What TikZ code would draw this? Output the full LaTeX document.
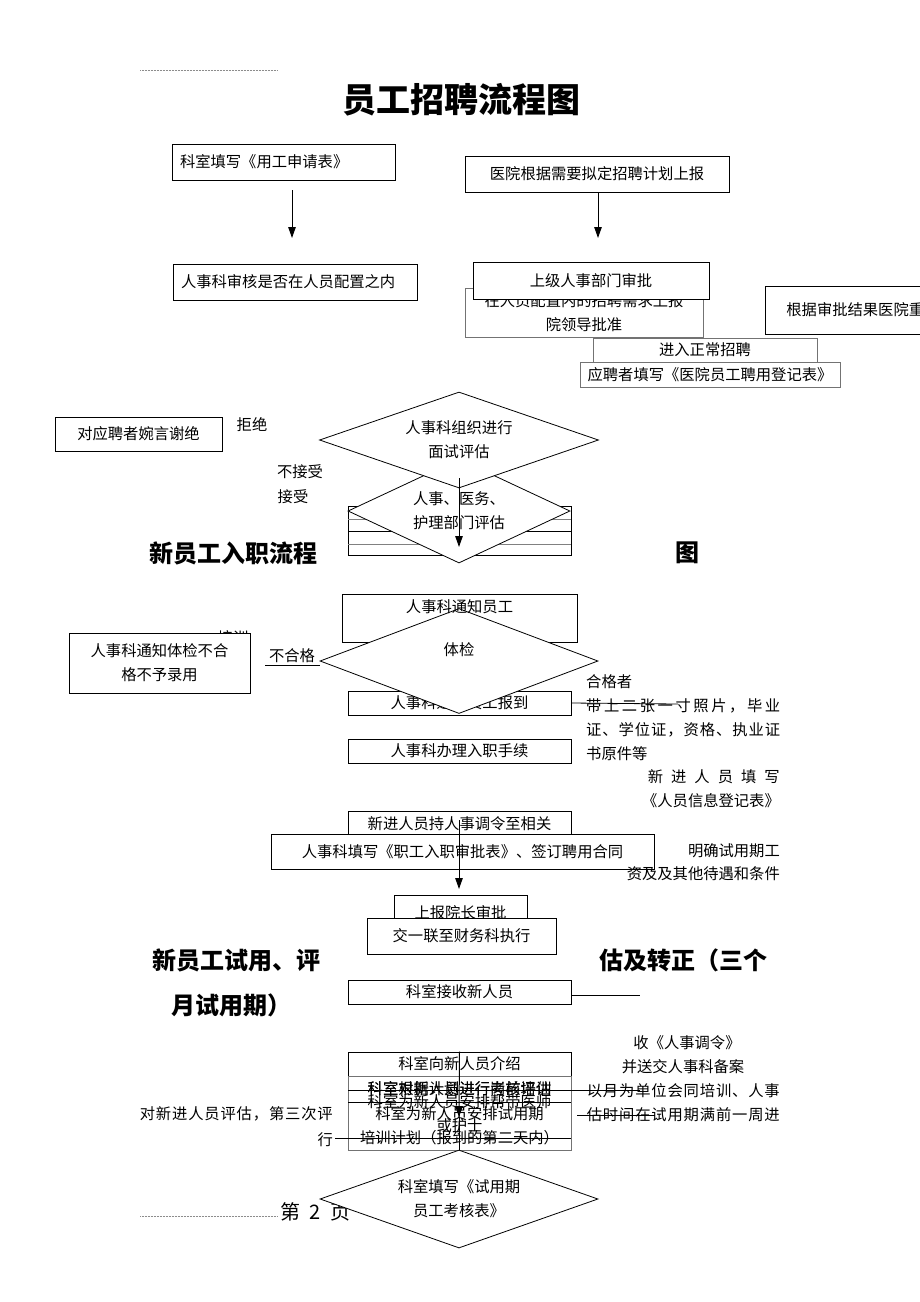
\documentclass[tikz,border=0pt]{standalone}
\usepackage{fontspec}
\setmainfont{Noto Sans CJK SC}
\usetikzlibrary{shapes.geometric,arrows.meta}
\newcommand{\fsn}{\fontsize{15.3}{24}\selectfont}
\newcommand{\fst}{\fontsize{34}{40}\selectfont\bfseries}
\newcommand{\fsh}{\fontsize{24}{28}\selectfont\bfseries}
\newcommand{\fsp}{\fontsize{20}{24}\selectfont}
\tikzset{
  bx/.style={draw, line width=0.8pt, fill=white, inner sep=0pt, font=\fsn, align=center},
  gbx/.style={bx, draw=black!55},
  sz/.style 2 args={minimum width=#1pt, minimum height=#2pt},
  dm/.style={draw, line width=0.8pt, fill=white, diamond, inner sep=0pt, font=\fsn, align=center},
  tx/.style={inner sep=0pt, font=\fsn, align=center},
  hd/.style={inner sep=0pt, font=\fsh},
  ln/.style={line width=0.8pt},
  gln/.style={line width=0.8pt, black!50},
  arr/.style={line width=1pt, -{Triangle[length=11pt,width=7.5pt]}},
  dotl/.style={line width=0.5pt, black!45, densely dotted}
}
\begin{document}
\begin{tikzpicture}[x=1pt,y=-1pt]
\useasboundingbox (0,0) rectangle (920,1302);
\fill[white] (0,0) rectangle (920,1302);
\clip (0,0) rectangle (920,1302);

% header rule and title
\coordinate (hl1) at (140,70); \coordinate (hl2) at (277,70);
\draw[dotl] (hl1) -- (hl2);
\node[inner sep=0pt, font=\fst] (title) at (461,100) {员工招聘流程图};

% ---------- recruitment ----------
\node[bx, sz={223}{36}, text width=207pt, align=left] (b1) at (283.5,162) {科室填写《用工申请表》};
\node[bx, sz={264}{36}] (b2) at (597,174) {医院根据需要拟定招聘计划上报};
\node[bx, sz={244}{36}, text width=228pt, align=left] (b3) at (295,282) {人事科审核是否在人员配置之内};
\draw[arr] (292,190) -- (292,238);
\draw[arr] (598,192) -- (598,238);
\node[gbx, sz={238}{49}] (b4) at (584,313) {在人员配置内的招聘需求上报\\院领导批准};
\node[bx, sz={236}{37}] (b5) at (591,280.5) {上级人事部门审批};
\node[bx, sz={186}{48}, text width=144pt, align=left, inner xsep=21pt, anchor=west] (b6) at (765,310) {根据审批结果医院重};
\node[gbx, sz={224}{28}, text depth=6pt] (b7) at (705,352) {进入正常招聘};
\node[gbx, sz={260}{25}] (b8) at (710,374.5) {应聘者填写《医院员工聘用登记表》};

\node[bx, sz={167}{34}] (b9) at (138.5,434) {对应聘者婉言谢绝};
\node[tx] (l1) at (252,425) {拒绝};
\node[tx] (l2) at (300,472) {不接受};
\node[tx] (l3) at (293,497) {接受};

% stacked boxes behind second diamond
\draw[ln] (348,506) rectangle (571,555);
\draw[gln] (348,519) -- (571,519);
\draw[ln] (348,531) -- (571,531);
\draw[gln] (348,544) -- (571,544);
\node[dm, sz={222}{104}, shape aspect=2.1] (d2) at (459,511) {人事、医务、\\护理部门评估};
\node[dm, sz={279}{96}, shape aspect=2.9] (d1) at (459,440) {人事科组织进行\\面试评估};
\draw[arr] (459,478) -- (459,547);

% ---------- onboarding ----------
\node[hd] (h1) at (233,553) {新员工入职流程};
\node[hd] (h2) at (687,553) {图};

\node[bx, sz={235}{48}] (b10) at (459.5,618) {};
\node[tx] (px) at (233,638) {培训};
\node[bx, sz={181}{60}] (b11) at (159.5,663) {人事科通知体检不合\\格不予录用};
\node[bx, sz={223}{24}] (b12) at (459.5,703) {人事科通知员工报到};
\node[dm, sz={278}{105}] (d3) at (459,661) {};
\node[tx] (d3t) at (459,650) {体检};
\node[tx] (b10t) at (459.5,607) {人事科通知员工};
\node[tx] (l4) at (292,656) {不合格};
\coordinate (u1) at (265,665);
\draw[ln] (u1) -- (u1 -| d3.west);

\node[tx, anchor=west] (r1) at (586,682) {合格者};
\coordinate (s1) at (678,704);
\draw[ln] (b12.east) -- (s1);
\node[tx, anchor=west] (r2) at (586,706) {\makebox[194pt]{带\hfill 上\hfill 二\hfill 张\hfill 一\hfill 寸\hfill 照\hfill 片\hfill ，\hfill 毕\hfill 业}};
\node[tx, anchor=west] (r3) at (586,730) {\makebox[194pt]{证\hfill 、\hfill 学\hfill 位\hfill 证\hfill ，\hfill 资\hfill 格\hfill 、\hfill 执\hfill 业\hfill 证}};
\node[tx, anchor=west] (r4) at (586,754) {书原件等};

\node[bx, sz={223}{24}] (b13) at (459.5,751) {人事科办理入职手续};
\node[tx, anchor=east] (r5) at (780,777) {\makebox[132pt]{新\hfill 进\hfill 人\hfill 员\hfill 填\hfill 写}};
\node[tx, anchor=east] (r6) at (780,801) {《人员信息登记表》};

\node[bx, sz={223}{26}] (b14) at (459.5,824) {新进人员持人事调令至相关};
\node[bx, sz={383}{35}] (b15) at (462.5,851.5) {人事科填写《职工入职审批表》、签订聘用合同};
\draw[arr] (459,820) -- (459,889);
\node[tx, anchor=east] (r7) at (780,851) {明确试用期工};
\node[tx, anchor=east] (r8) at (780,874) {资及及其他待遇和条件};

\node[bx, sz={133}{35}] (b16) at (460.5,912.5) {上报院长审批};
\node[bx, sz={189}{36}] (b17) at (461.5,936) {交一联至财务科执行};

% ---------- probation ----------
\node[hd] (h3) at (236,960) {新员工试用、评};
\node[hd] (h4) at (683,960) {估及转正（三个};
\node[hd] (h5) at (231,1005) {月试用期）};

\node[bx, sz={223}{24}] (b18) at (459.5,992) {科室接收新人员};
\coordinate (s2) at (640,995);
\draw[ln] (571,995) -- (s2);
\node[tx] (r9) at (687,1043) {收《人事调令》};
\node[tx] (r10) at (683,1067) {并送交人事科备案};

\node[bx, fill=none, sz={223}{24}] (b19) at (459.5,1064) {科室向新人员介绍};
\node[bx, fill=none, draw=black!55, sz={223}{74}] (b20) at (459.5,1113) {};
\node[tx] (t1) at (459.5,1089) {科室对新人员进行岗前培训};
\node[tx] (t2) at (459.5,1089) {科室根据计划进行考核评估};
\node[tx] (t3) at (459.5,1102) {科室为新人员安排帮带医师};
\node[tx] (t4) at (459.5,1114) {科室为新人员安排试用期};
\node[tx] (t5) at (459.5,1126) {或护士};
\node[tx] (t6) at (459.5,1138) {培训计划（报到的第二天内）};
\draw[ln] (348,1090) -- (640,1090);
\draw[ln] (348,1102) -- (571,1102);
\draw[ln] (335,1138) -- (571,1138);
\draw[ln] (577,1115) -- (655,1115);

\node[tx, anchor=east] (r11) at (780,1091) {\makebox[193pt]{以\hfill 月\hfill 为\hfill 单\hfill 位\hfill 会\hfill 同\hfill 培\hfill 训\hfill 、\hfill 人\hfill 事}};
\node[tx, anchor=east] (r12) at (780,1115) {\makebox[193pt]{估\hfill 时\hfill 间\hfill 在\hfill 试\hfill 用\hfill 期\hfill 满\hfill 前\hfill 一\hfill 周\hfill 进}};
\node[tx, anchor=east] (r13) at (333,1114) {\makebox[193pt]{对\hfill 新\hfill 进\hfill 人\hfill 员\hfill 评\hfill 估\hfill ，\hfill 第\hfill 三\hfill 次\hfill 评}};
\node[tx, anchor=east] (r14) at (333,1140) {行};

% footer
\coordinate (fl1) at (140,1216); \coordinate (fl2) at (277,1216);
\draw[dotl] (fl1) -- (fl2);
\node[inner sep=0pt, font=\fsp, anchor=west] (pg) at (280,1212) {\makebox[70pt]{第\hfill 2\hfill 页}};

\node[dm, sz={278}{98}, shape aspect=2.8] (d4) at (459,1199) {科室填写《试用期\\员工考核表》};
\draw[arr] (b19.north) -- (459,1117);
\draw[ln] (459,1117) -- (d4.north);
\end{tikzpicture}
\end{document}
